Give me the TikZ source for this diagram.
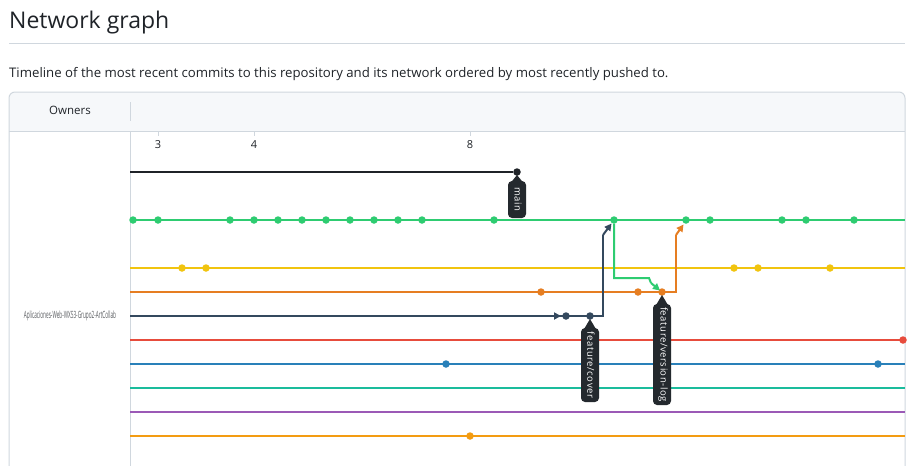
\documentclass[tikz,border=0pt]{standalone}
\usepackage{fontspec}
\setmainfont{Open Sans}
\usetikzlibrary{arrows.meta}
\definecolor{ink}{HTML}{1F2328}
\definecolor{rule}{HTML}{D0D7DE}
\definecolor{hdr}{HTML}{F6F8FA}
\definecolor{flagc}{HTML}{24292E}
\definecolor{cblack}{HTML}{1F2328}
\definecolor{cgreen}{HTML}{2ECC71}
\definecolor{cyellow}{HTML}{F1C40F}
\definecolor{corange}{HTML}{E67E22}
\definecolor{cnavy}{HTML}{34495E}
\definecolor{cred}{HTML}{E74C3C}
\definecolor{cblue}{HTML}{2980B9}
\definecolor{cteal}{HTML}{1ABC9C}
\definecolor{cpurple}{HTML}{9B59B6}
\definecolor{corange2}{HTML}{F39C12}
\newcommand\ghflag[4]{% x, dot y, box top, box bottom
  \fill[flagc] (#1,#2+3) -- (#1+6.5,#3+2) -- (#1-6.5,#3+2) -- cycle;
  \fill[flagc,rounded corners=4pt] (#1-9,#3) rectangle (#1+9,#4);
}
\begin{document}
\begin{tikzpicture}[x=1pt,y=-1pt,
  dot/.style={circle,fill=#1,inner sep=0pt,minimum size=7.5pt},
  row/.style={draw=#1,line width=2pt},
  tip/.style={-{Triangle[length=7pt,width=7pt]}},
  flagtext/.style={text=white,font=\fontsize{9.5}{10}\selectfont\addfontfeature{LetterSpace=6},rotate=-90,inner sep=0pt},
  tick/.style={draw=rule,line width=1pt}]
\useasboundingbox (0,0) rectangle (916,466);
% title
\node[anchor=base west,inner sep=0pt,text=ink,font=\fontsize{23}{24}\selectfont] (title) at (9,28) {Network graph};
\draw[rule,line width=1pt] (9,43.5) coordinate (r1) -- (905,43.5) coordinate (r2);
\node[anchor=base west,inner sep=0pt,text=ink,font=\fontsize{13.2}{14}\selectfont] (sub) at (9,77) {Timeline of the most recent commits to this repository and its network ordered by most recently pushed to.};
% box
\fill[hdr,rounded corners=6pt] (9,92) rectangle (905,145);
\fill[white] (9.5,131) rectangle (904.5,470);
\draw[rule,line width=1pt] (9,131) -- (905,131);
\draw[rule,line width=1pt,rounded corners=6pt] (9,500) -- (9,92) -- (905,92) -- (905,500);
\node[text=ink,font=\fontsize{11.5}{12}\selectfont] (owners) at (70,110) {Owners};
\draw[rule,line width=1pt] (130,102) -- (130,121);
\draw[rule,line width=1pt] (130,131) -- (130,470);
% column ticks
\foreach \x/\n in {158/3,254/4,470/8}{
  \draw[tick] (\x,131) -- (\x,136);
  \node[text=ink,font=\fontsize{11}{12}\selectfont] (col\n) at (\x,145) {\n};
}
% owner label
\node[text=ink!75,inner sep=0pt] (owner) at (70,316) {\scalebox{0.47}[1]{\fontsize{10}{10}\selectfont Aplicaciones-Web-WX53-Grupo2-ArtCollab}};
% rows
\coordinate (bk0) at (130,172);
\node[dot=cblack] (bkm) at (517,172) {};
\draw[row=cblack] (bk0) -- (bkm);

\coordinate (gr0) at (130,220); \coordinate (gr1) at (905,220);
\draw[row=cgreen] (gr0) -- (gr1);
\foreach \x in {133,158,230,254,278,302,326,350,374,398,422,494,614,686,710,782,806,854}{
  \node[dot=cgreen] (g\x) at (\x,220) {};}

\coordinate (ye0) at (130,268); \coordinate (ye1) at (905,268);
\draw[row=cyellow] (ye0) -- (ye1);
\foreach \x in {182,206,734,758,830}{\node[dot=cyellow] (y\x) at (\x,268) {};}

\coordinate (re0) at (130,340); \coordinate (re1) at (905,340);
\draw[row=cred] (re0) -- (re1);
\node[dot=cred] (r903) at (903,340) {};

\coordinate (bl0) at (130,364); \coordinate (bl1) at (905,364);
\draw[row=cblue] (bl0) -- (bl1);
\foreach \x in {446,878}{\node[dot=cblue] (b\x) at (\x,364) {};}

\coordinate (te0) at (130,388); \coordinate (te1) at (905,388);
\draw[row=cteal] (te0) -- (te1);
\coordinate (pu0) at (130,412); \coordinate (pu1) at (905,412);
\draw[row=cpurple] (pu0) -- (pu1);
\coordinate (o20) at (130,436); \coordinate (o21) at (905,436);
\draw[row=corange2] (o20) -- (o21);
\node[dot=corange2] (o2470) at (470,436) {};

% orange row with merge up
\coordinate (or0) at (130,292);
\coordinate (orc1) at (676,292); \coordinate (orc2) at (676,235); \coordinate (ortip) at (683.5,224.5);
\draw[row=corange] (or0) -- (orc1) -- (orc2);
\draw[row=corange,tip] (orc2) -- (ortip);
\foreach \x in {541,638,662}{\node[dot=corange] (o\x) at (\x,292) {};}

% navy row with merge up
\coordinate (nv0) at (130,316);
\coordinate (nvc1) at (603,316); \coordinate (nvc2) at (603,235); \coordinate (nvtip) at (611.5,223.5);
\draw[row=cnavy] (nv0) -- (nvc1) -- (nvc2);
\draw[row=cnavy,tip] (nvc2) -- (nvtip);
\coordinate (nva) at (550,316); \coordinate (nvb) at (561,316);
\draw[row=cnavy,tip] (nva) -- (nvb);
\foreach \x in {566,590}{\node[dot=cnavy] (n\x) at (\x,316) {};}

% green branch down to orange
\coordinate (gbc1) at (614,278); \coordinate (gbc2) at (649,278); \coordinate (gbc3) at (651,283); \coordinate (gbtip) at (660,290.5);
\draw[row=cgreen] (g614) -- (gbc1) -- (gbc2) -- (gbc3);
\draw[row=cgreen,tip] (gbc3) -- (gbtip);

% flags
\ghflag{517}{172}{181}{218}
\node[flagtext] (fmain) at (518,199.5) {main};
\ghflag{590}{316}{328}{402}
\node[flagtext] (fcover) at (591,365) {feature/cover};
\ghflag{662}{292}{304}{405}
\node[flagtext] (fvlog) at (663,354.5) {feature/version-log};
\end{tikzpicture}
\end{document}
